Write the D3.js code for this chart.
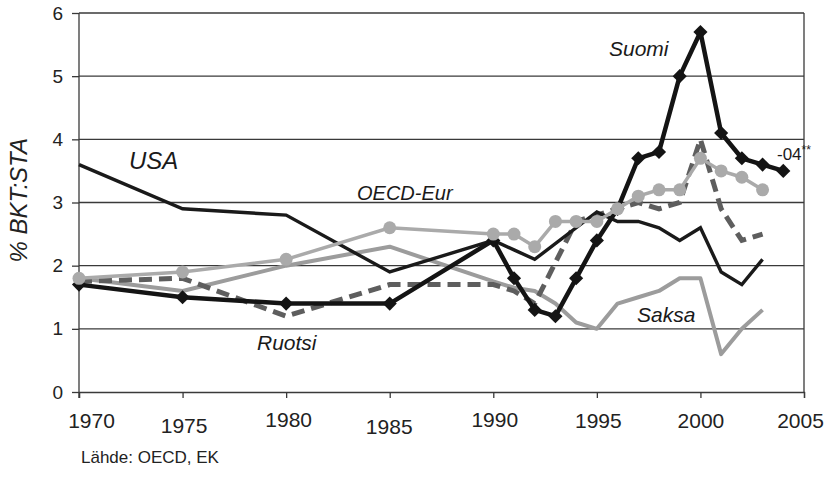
<!DOCTYPE html>
<html>
<head>
<meta charset="utf-8">
<script src="https://cdn.jsdelivr.net/npm/d3@7"></script>
<style>
  html, body { margin: 0; padding: 0; background: #fff; }
  svg { display: block; font-family: "Liberation Sans", Arial, sans-serif; }
</style>
</head>
<body>
<svg id="chart" width="828" height="478"></svg>
<script>
// ---- data ----
const xTicks = [1970, 1975, 1980, 1985, 1990, 1995, 2000, 2005];
const yTicks = [0, 1, 2, 3, 4, 5, 6];

const usaYears = [1970, 1975, 1980, 1985, 1990, 1991, 1992, 1995, 1996, 1997, 1998, 1999, 2000, 2001, 2002, 2003];
const usaValues = [3.6, 2.9, 2.8, 1.9, 2.4, 2.25, 2.1, 2.85, 2.7, 2.7, 2.6, 2.4, 2.6, 1.9, 1.7, 2.1];

const suomiYears = [1970, 1975, 1980, 1985, 1990, 1991, 1992, 1993, 1994, 1995, 1996, 1997, 1998, 1999, 2000, 2001, 2002, 2003, 2004];
const suomiValues = [1.7, 1.5, 1.4, 1.4, 2.4, 1.8, 1.3, 1.2, 1.8, 2.4, 2.9, 3.7, 3.8, 5.0, 5.7, 4.1, 3.7, 3.6, 3.5];

const oecdYears = [1970, 1975, 1980, 1985, 1990, 1991, 1992, 1993, 1994, 1995, 1996, 1997, 1998, 1999, 2000, 2001, 2002, 2003];
const oecdValues = [1.8, 1.9, 2.1, 2.6, 2.5, 2.5, 2.3, 2.7, 2.7, 2.7, 2.9, 3.1, 3.2, 3.2, 3.7, 3.5, 3.4, 3.2];

const saksaYears = [1970, 1975, 1980, 1985, 1990, 1991, 1992, 1993, 1994, 1995, 1996, 1997, 1998, 1999, 2000, 2001, 2002, 2003];
const saksaValues = [1.8, 1.6, 2.0, 2.3, 1.75, 1.65, 1.6, 1.4, 1.1, 1.0, 1.4, 1.5, 1.6, 1.8, 1.8, 0.6, 1.0, 1.3];

const ruotsiYears = [1970, 1975, 1980, 1985, 1990, 1991, 1992, 1994, 1995, 1996, 1997, 1998, 1999, 2000, 2001, 2002, 2003];
const ruotsiValues = [1.75, 1.8, 1.2, 1.7, 1.7, 1.6, 1.4, 2.7, 2.8, 2.9, 3.0, 2.9, 3.0, 4.0, 2.9, 2.4, 2.5];

const yAxisTitle = "% BKT:STA";
const sourceText = "Lähde: OECD, EK";

// ---- layout ----
const svg = d3.select("#chart");
const mLeft = 79, mRight = 804, mTop = 13, mBottom = 392;

const x = d3.scaleLinear().domain([1970, 2005]).range([mLeft, mRight]);
const y = d3.scaleLinear().domain([0, 6]).range([mBottom, mTop]);

const zip = (ys, vs) => ys.map((yr, i) => ({ year: yr, value: vs[i] }));

svg.append("rect").attr("width", 828).attr("height", 478).attr("fill", "#fff");

// gridlines
svg.append("g").selectAll("line").data(yTicks.filter(d => d > 0)).join("line")
  .attr("x1", mLeft).attr("x2", mRight)
  .attr("y1", d => y(d)).attr("y2", d => y(d))
  .attr("stroke", "#3a3a3a").attr("stroke-width", 1.3);

// right border
svg.append("line").attr("x1", mRight).attr("x2", mRight)
  .attr("y1", mTop).attr("y2", mBottom)
  .attr("stroke", "#3a3a3a").attr("stroke-width", 1.3);

// x axis
const xAxis = svg.append("g").attr("transform", `translate(0,${mBottom})`)
  .call(d3.axisBottom(x).tickValues(xTicks).tickFormat(d3.format("d")).tickSize(6).tickPadding(0));
xAxis.select(".domain").attr("stroke", "#3a3a3a").attr("stroke-width", 1.3);
xAxis.selectAll(".tick line").attr("stroke", "#3a3a3a").attr("stroke-width", 1.3);
const xLabelShift = { 1970: [12, 0], 1975: [1, 5], 1980: [2, -1], 1985: [-1, 6], 1990: [1, -1], 1995: [1, 0], 2000: [0, 0], 2005: [-4, 0] };
xAxis.selectAll(".tick text")
  .attr("font-size", 21).attr("fill", "#222")
  .attr("font-family", "'Liberation Sans', Arial, sans-serif")
  .attr("dy", null)
  .attr("y", d => 36 + xLabelShift[d][1])
  .attr("x", d => xLabelShift[d][0]);

// y axis
const yAxis = svg.append("g").attr("transform", `translate(${mLeft},0)`)
  .call(d3.axisLeft(y).tickValues(yTicks).tickFormat(d3.format("d")).tickSize(7).tickPadding(9));
yAxis.select(".domain").remove();
yAxis.append("line").attr("x1", 0).attr("x2", 0).attr("y1", mTop).attr("y2", mBottom + 6)
  .attr("stroke", "#3a3a3a").attr("stroke-width", 1.3);
yAxis.selectAll(".tick line").attr("stroke", "#3a3a3a").attr("stroke-width", 1.3);
yAxis.selectAll(".tick text").attr("font-size", 19).attr("fill", "#222")
  .attr("font-family", "'Liberation Sans', Arial, sans-serif");

// axis title
svg.append("text")
  .attr("transform", "translate(27,138) rotate(-90)")
  .attr("text-anchor", "end")
  .attr("font-size", 24).attr("font-style", "italic").attr("fill", "#222")
  .text(yAxisTitle);

// lines
const line = d3.line().x(d => x(d.year)).y(d => y(d.value));
const plot = svg.append("g");

plot.append("path").datum(zip(saksaYears, saksaValues))
  .attr("d", line).attr("fill", "none").attr("stroke", "#9c9c9c")
  .attr("stroke-width", 4).attr("stroke-linejoin", "round");

plot.append("path").datum(zip(ruotsiYears, ruotsiValues))
  .attr("d", line).attr("fill", "none").attr("stroke", "#5e5e5e")
  .attr("stroke-width", 5).attr("stroke-dasharray", "13,7");

plot.append("path").datum(zip(usaYears, usaValues))
  .attr("d", line).attr("fill", "none").attr("stroke", "#1a1a1a")
  .attr("stroke-width", 3.4).attr("stroke-linejoin", "miter");

const suomi = zip(suomiYears, suomiValues);
plot.append("path").datum(suomi)
  .attr("d", line).attr("fill", "none").attr("stroke", "#141414")
  .attr("stroke-width", 4.5).attr("stroke-linejoin", "round");
plot.append("g").selectAll("path").data(suomi).join("path")
  .attr("d", d3.symbol(d3.symbolSquare, 100))
  .attr("transform", d => `translate(${x(d.year)},${y(d.value)}) rotate(45)`)
  .attr("fill", "#141414");

const oecd = zip(oecdYears, oecdValues);
plot.append("path").datum(oecd)
  .attr("d", line).attr("fill", "none").attr("stroke", "#aaaaaa")
  .attr("stroke-width", 3.5);
plot.append("g").selectAll("circle").data(oecd).join("circle")
  .attr("cx", d => x(d.year)).attr("cy", d => y(d.value)).attr("r", 6.5)
  .attr("fill", "#aaaaaa");

// series labels
const lab = (t, px, py, size) => svg.append("text").attr("x", px).attr("y", py)
  .attr("font-size", size).attr("font-style", "italic").attr("fill", "#1a1a1a").text(t);
lab("USA", 129, 169, 24);
lab("OECD-Eur", 357, 200, 20);
lab("Suomi", 609, 56, 21);
lab("Saksa", 637, 322, 21);
lab("Ruotsi", 257, 350, 21);

const note = svg.append("text").attr("x", 777).attr("y", 160).attr("font-size", 17).attr("fill", "#1a1a1a");
note.append("tspan").text("-04");
note.append("tspan").attr("font-size", 12).attr("dy", -6).text("**");

svg.append("text").attr("x", 81).attr("y", 463).attr("font-size", 17).attr("fill", "#222")
  .text(sourceText);
</script>
</body>
</html>
